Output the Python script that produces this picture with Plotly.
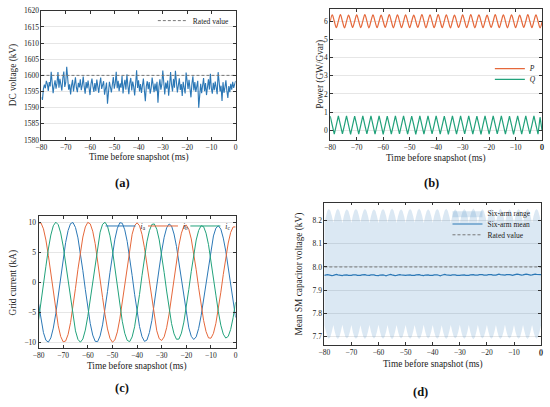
import numpy as np
import plotly.graph_objects as go

# ---- (a) DC voltage, sampled every 0.4 ms ----
dc_voltage = [
    1593.2, 1592.4, 1595.8, 1597.1, 1596.0, 1598.3, 1597.4, 1595.2, 1597.9, 1596.6,
    1601.1, 1597.3, 1594.5, 1596.8, 1598.5, 1595.9, 1597.6, 1601.0, 1596.2, 1598.9,
    1597.0, 1595.3, 1599.1, 1601.2, 1596.4, 1597.8, 1602.7, 1598.1, 1595.6, 1597.2,
    1594.1, 1596.9, 1598.6, 1595.0, 1597.5, 1599.4, 1596.1, 1594.8, 1597.7, 1596.3,
    1598.8, 1595.4, 1597.0, 1599.6, 1596.5, 1594.3, 1597.9, 1596.0, 1598.4, 1595.7,
    1593.9, 1597.3, 1599.0, 1596.6, 1594.9, 1597.6, 1595.2, 1598.7, 1596.9, 1594.6,
    1597.4, 1599.3, 1595.8, 1596.7, 1598.2, 1594.0, 1596.3, 1597.8, 1591.2, 1595.5,
    1598.0, 1596.4, 1594.7, 1597.1, 1599.5, 1595.9, 1597.6, 1601.1, 1596.0, 1598.3,
    1595.1, 1597.5, 1596.2, 1599.8, 1594.4, 1597.0, 1598.6, 1595.6, 1600.3, 1596.8,
    1594.2, 1597.7, 1599.2, 1595.3, 1598.1, 1596.5, 1593.8, 1597.4, 1601.6, 1596.1,
    1598.5, 1595.0, 1597.3, 1594.6, 1596.9, 1599.0, 1595.4, 1592.0, 1596.6, 1598.2,
    1595.7, 1597.9, 1594.3, 1596.0, 1599.3, 1596.7, 1594.8, 1597.5, 1595.2, 1598.0,
    1591.5, 1596.4, 1598.8, 1595.6, 1597.2, 1601.5, 1596.3, 1594.1, 1597.8, 1595.9,
    1598.4, 1593.7, 1596.8, 1601.0, 1597.1, 1595.0, 1598.9, 1596.2, 1601.4, 1597.6,
    1594.7, 1596.9, 1599.1, 1595.5, 1597.3, 1593.6, 1598.0, 1596.1, 1594.4, 1600.9,
    1597.0, 1595.8, 1598.6, 1596.4, 1593.2, 1597.5, 1599.7, 1595.3, 1597.9, 1594.9,
    1596.6, 1598.3, 1590.0, 1595.7, 1597.4, 1594.5, 1596.9, 1599.2, 1595.1, 1597.6,
    1593.9, 1596.2, 1598.8, 1595.6, 1600.5, 1596.0, 1594.3, 1597.7, 1595.4, 1598.1,
    1596.5, 1594.2, 1601.0, 1597.3, 1595.0, 1596.8, 1592.1, 1597.9, 1594.6, 1596.3,
    1598.5, 1595.2, 1593.0, 1596.7, 1594.8, 1597.4, 1595.6, 1598.0, 1596.1, 1597.2,
    1598.3,
]
dc_rated = [1600, 1600]

# ---- (b) active / reactive power, quarter-period samples ----
power_p = [
    6.00, 6.35, 6.00, 5.65, 6.01, 6.36, 6.00, 5.64, 5.99, 6.34, 6.01, 5.66,
    6.00, 6.35, 6.00, 5.65, 6.01, 6.37, 6.01, 5.64, 6.00, 6.35, 5.99, 5.65,
    6.00, 6.34, 6.00, 5.66, 6.01, 6.36, 6.00, 5.64, 6.00, 6.35, 6.01, 5.65,
    5.99, 6.35, 6.00, 5.65, 6.00, 6.34, 6.00, 5.66, 6.01, 6.36, 6.01, 5.64,
    6.00, 6.35, 5.99, 5.65, 6.00, 6.37, 6.00, 5.65, 6.01, 6.35, 6.00, 5.64,
    6.00, 6.34, 6.01, 5.66, 5.99, 6.35, 6.00, 5.65, 6.00, 6.36, 6.00, 5.64,
    6.01, 6.35, 6.01, 5.65, 6.00, 6.34, 5.99, 5.66, 6.00, 6.36, 6.00, 5.65,
    6.01, 6.35, 6.00, 5.64, 6.00, 6.35, 6.01, 5.65, 5.99, 6.34, 6.00, 5.66,
    6.00, 6.36, 6.00, 5.65, 6.01, 6.35, 6.00, 5.64, 5.98,
]
power_q = [
    0.78, 0.29, -0.21, 0.29, 0.79, 0.30, -0.20, 0.28, 0.80, 0.29, -0.22, 0.29,
    0.78, 0.30, -0.21, 0.29, 0.79, 0.28, -0.20, 0.30, 0.80, 0.29, -0.21, 0.29,
    0.79, 0.30, -0.22, 0.28, 0.78, 0.29, -0.21, 0.29, 0.80, 0.29, -0.20, 0.30,
    0.79, 0.28, -0.21, 0.29, 0.78, 0.30, -0.22, 0.29, 0.79, 0.29, -0.21, 0.28,
    0.80, 0.29, -0.20, 0.29, 0.79, 0.30, -0.21, 0.29, 0.78, 0.28, -0.22, 0.30,
    0.79, 0.29, -0.21, 0.29, 0.80, 0.30, -0.20, 0.28, 0.79, 0.29, -0.21, 0.29,
    0.78, 0.29, -0.22, 0.30, 0.79, 0.28, -0.21, 0.29, 0.80, 0.30, -0.20, 0.29,
    0.79, 0.29, -0.21, 0.28, 0.78, 0.29, -0.22, 0.29, 0.79, 0.30, -0.21, 0.30,
    0.80, 0.29, -0.20, 0.29, 0.79, 0.28, -0.21, 0.72, -0.03,
]

# ---- (c) grid currents, 1 ms samples ----
current_a = [
    -3.54, -6.28, -8.40, -9.68, -9.98, -9.28, -7.65, -5.25, -2.33, 0.83,
    3.91, 6.59, 8.61, 9.77, 9.95, 9.12, 7.39, 4.91, 1.93, -1.23,
    -4.28, -6.89, -8.81, -9.85, -9.90, -8.95, -7.11, -4.55, -1.54, 1.63,
    4.63, 7.17, 8.99, 9.91, 9.83, 8.73, 6.79, 4.17, 1.13, -2.01,
    -4.94, -7.38, -9.07, -9.86, -9.65, -8.40, -6.39, -3.74, -0.73, 2.37,
    5.18, 7.49, 9.06, 9.71, 9.38, 8.03, 5.97, 3.32, 0.33, -2.69,
    -5.41, -7.60, -9.02, -9.55, -9.11, -7.69, -5.58, -2.91, 0.06, 3.02,
    5.63, 7.71, 9.01, 9.40, 8.85, 7.35, 5.19, 2.51, -0.43, -3.32,
    -5.89,
]
current_b = [
    9.87, 9.88, 8.90, 7.02, 4.44, 1.42, -1.75, -4.74, -7.26, -9.05,
    -9.93, -9.81, -8.71, -6.73, -4.08, -1.02, 2.15, 5.09, 7.53, 9.21,
    9.97, 9.72, 8.50, 6.43, 3.71, 0.62, -2.54, -5.43, -7.79, -9.36,
    -9.99, -9.62, -8.28, -6.12, -3.33, -0.22, 2.91, 5.74, 7.99, 9.44,
    9.90, 9.41, 7.97, 5.74, 2.92, -0.18, -3.23, -5.97, -8.10, -9.42,
    -9.71, -9.11, -7.59, -5.31, -2.50, 0.57, 3.54, 6.16, 8.17, 9.34,
    9.52, 8.81, 7.21, 4.89, 2.08, -0.94, -3.84, -6.35, -8.23, -9.28,
    -9.33, -8.52, -6.84, -4.48, -1.67, 1.29, 4.11, 6.53, 8.29, 9.21,
    9.21,
]
current_c = [
    -6.33, -3.59, -0.49, 2.66, 5.54, 7.86, 9.40, 10.0, 9.59, 8.21,
    6.02, 3.22, 0.09, -3.04, -5.87, -8.11, -9.53, -10.0, -9.46, -7.98,
    -5.69, -2.83, 0.31, 3.42, 6.19, 8.33, 9.65, 9.99, 9.33, 7.73,
    5.36, 2.45, -0.71, -3.79, -6.50, -8.51, -9.69, -9.91, -9.12, -7.43,
    -4.96, -2.04, 1.10, 4.12, 6.73, 8.58, 9.63, 9.71, 8.83, 7.05,
    4.53, 1.61, -1.47, -4.39, -6.89, -8.60, -9.51, -9.48, -8.49, -6.65,
    -4.11, -1.20, 1.81, 4.66, 7.03, 8.63, 9.41, 9.26, 8.17, 6.26,
    3.70, 0.81, -2.16, -4.92, -7.17, -8.65, -9.31, -9.03, -7.86, -5.89,
    -3.33,
]

# ---- (d) SM capacitor voltage, six samples per ripple cycle ----
sm_upper = [
    8.190, 8.220, 8.242, 8.250, 8.242, 8.220, 8.191, 8.221, 8.243, 8.251, 8.242, 8.219,
    8.189, 8.220, 8.241, 8.249, 8.241, 8.220, 8.190, 8.222, 8.243, 8.250, 8.243, 8.221,
    8.192, 8.221, 8.242, 8.251, 8.242, 8.220, 8.190, 8.219, 8.241, 8.249, 8.241, 8.219,
    8.189, 8.220, 8.242, 8.250, 8.242, 8.221, 8.191, 8.221, 8.243, 8.252, 8.243, 8.220,
    8.190, 8.220, 8.241, 8.249, 8.241, 8.219, 8.190, 8.221, 8.242, 8.250, 8.242, 8.220,
    8.191, 8.220, 8.243, 8.251, 8.242, 8.221, 8.189, 8.219, 8.241, 8.249, 8.241, 8.220,
    8.190, 8.221, 8.242, 8.250, 8.243, 8.220, 8.192, 8.222, 8.243, 8.251, 8.242, 8.219,
    8.190, 8.220, 8.241, 8.249, 8.241, 8.220, 8.189, 8.220, 8.242, 8.250, 8.242, 8.221,
    8.191, 8.221, 8.243, 8.252, 8.243, 8.220, 8.190, 8.219, 8.241, 8.249, 8.241, 8.219,
    8.190, 8.220, 8.242, 8.250, 8.242, 8.220, 8.191, 8.221, 8.243, 8.251, 8.242, 8.221,
    8.189, 8.220, 8.241, 8.249, 8.241, 8.220, 8.190, 8.221, 8.242, 8.250, 8.243, 8.220,
    8.191, 8.220, 8.243, 8.251, 8.242, 8.219, 8.190, 8.220, 8.242, 8.250, 8.242, 8.220,
    8.190,
]
sm_lower = [
    7.750, 7.720, 7.698, 7.690, 7.698, 7.720, 7.749, 7.719, 7.697, 7.689, 7.698, 7.721,
    7.751, 7.720, 7.699, 7.691, 7.699, 7.720, 7.750, 7.718, 7.697, 7.690, 7.697, 7.719,
    7.748, 7.719, 7.698, 7.689, 7.698, 7.720, 7.750, 7.721, 7.699, 7.691, 7.699, 7.721,
    7.751, 7.720, 7.698, 7.690, 7.698, 7.719, 7.749, 7.719, 7.697, 7.688, 7.697, 7.720,
    7.750, 7.720, 7.699, 7.691, 7.699, 7.721, 7.750, 7.719, 7.698, 7.690, 7.698, 7.720,
    7.749, 7.720, 7.697, 7.689, 7.698, 7.719, 7.751, 7.721, 7.699, 7.691, 7.699, 7.720,
    7.750, 7.719, 7.698, 7.690, 7.697, 7.720, 7.748, 7.718, 7.697, 7.689, 7.698, 7.721,
    7.750, 7.720, 7.699, 7.691, 7.699, 7.720, 7.751, 7.720, 7.698, 7.690, 7.698, 7.719,
    7.749, 7.719, 7.697, 7.688, 7.697, 7.720, 7.750, 7.721, 7.699, 7.691, 7.699, 7.721,
    7.750, 7.720, 7.698, 7.690, 7.698, 7.720, 7.749, 7.719, 7.697, 7.689, 7.698, 7.719,
    7.751, 7.720, 7.699, 7.691, 7.699, 7.720, 7.750, 7.719, 7.698, 7.690, 7.697, 7.720,
    7.749, 7.720, 7.697, 7.689, 7.698, 7.721, 7.750, 7.720, 7.698, 7.690, 7.698, 7.720,
    7.750,
]
sm_mean = [
    7.964, 7.966, 7.967, 7.966, 7.964, 7.963, 7.964, 7.966, 7.968, 7.966, 7.964, 7.962,
    7.963, 7.965, 7.967, 7.966, 7.964, 7.963, 7.964, 7.966, 7.967, 7.966, 7.964, 7.963,
    7.964, 7.966, 7.968, 7.967, 7.965, 7.963, 7.964, 7.966, 7.967, 7.966, 7.964, 7.963,
    7.963, 7.965, 7.967, 7.966, 7.964, 7.962, 7.964, 7.966, 7.968, 7.966, 7.964, 7.963,
    7.964, 7.966, 7.967, 7.966, 7.965, 7.963, 7.964, 7.965, 7.967, 7.966, 7.964, 7.963,
    7.964, 7.966, 7.968, 7.967, 7.965, 7.963, 7.963, 7.965, 7.967, 7.966, 7.964, 7.963,
    7.964, 7.966, 7.967, 7.966, 7.964, 7.962, 7.964, 7.966, 7.968, 7.966, 7.965, 7.963,
    7.964, 7.966, 7.967, 7.966, 7.964, 7.963, 7.964, 7.965, 7.967, 7.966, 7.964, 7.963,
    7.964, 7.966, 7.968, 7.967, 7.965, 7.964, 7.965, 7.967, 7.968, 7.967, 7.965, 7.964,
    7.965, 7.967, 7.968, 7.967, 7.965, 7.964, 7.965, 7.967, 7.969, 7.967, 7.966, 7.964,
    7.965, 7.967, 7.968, 7.967, 7.966, 7.964, 7.966, 7.968, 7.969, 7.968, 7.966, 7.965,
    7.966, 7.968, 7.969, 7.968, 7.966, 7.965, 7.966, 7.968, 7.969, 7.968, 7.967, 7.966,
    7.967,
]
sm_rated = [8.0, 8.0]

x_ticks = [-80, -70, -60, -50, -40, -30, -20, -10, 0]
rated_t = [-80, 0]

t_dc = np.linspace(-80, 0, len(dc_voltage))
t_pq = np.linspace(-80, 0, len(power_p))
t_i = np.linspace(-80, 0, len(current_a))
t_sm = np.linspace(-80, 0, len(sm_mean))

SERIF = 'Liberation Serif'
BLUE = '#2c78b6'
ORANGE = '#e5683b'
GREEN = '#22a27b'
GREY = '#777777'
W, H = 550, 407


def px_x(x):
    return x / W


def px_y(y):
    return 1 - y / H


def legend_at(text_x, text_y):
    # text of a single-entry legend starts about 40 px right of the box edge
    return dict(x=px_x(text_x - 41), y=px_y(text_y), xanchor='left', yanchor='middle',
                bgcolor='rgba(0,0,0,0)', borderwidth=0, itemwidth=30,
                font=dict(family=SERIF, size=7.5, color='#222'))


fig = go.Figure()

# (a)
fig.add_trace(go.Scatter(x=t_dc, y=dc_voltage, mode='lines', line=dict(color=BLUE, width=1.1),
                         showlegend=False, xaxis='x', yaxis='y'))
fig.add_trace(go.Scatter(x=rated_t, y=dc_rated, mode='lines', name='Rated value',
                         line=dict(color=GREY, width=1, dash='3px,2px'), legend='legend',
                         xaxis='x', yaxis='y'))

# (b)
fig.add_trace(go.Scatter(x=t_pq, y=power_p, mode='lines', name='<i>P</i>',
                         line=dict(color=ORANGE, width=1.2, shape='spline'), legend='legend2',
                         xaxis='x2', yaxis='y2'))
fig.add_trace(go.Scatter(x=t_pq, y=power_q, mode='lines', name='<i>Q</i>',
                         line=dict(color=GREEN, width=1.2), legend='legend3',
                         xaxis='x2', yaxis='y2'))

# (c)
for vals, col, name, leg in [(current_a, BLUE, '<i>i</i><sub>a</sub>', 'legend4'),
                             (current_b, ORANGE, '<i>i</i><sub>b</sub>', 'legend5'),
                             (current_c, GREEN, '<i>i</i><sub>c</sub>', 'legend6')]:
    fig.add_trace(go.Scatter(x=t_i, y=vals, mode='lines', name=name,
                             line=dict(color=col, width=1), legend=leg,
                             xaxis='x3', yaxis='y3'))

# (d)
fig.add_trace(go.Scatter(x=t_sm, y=sm_lower, mode='lines', line=dict(width=0),
                         showlegend=False, hoverinfo='skip', xaxis='x4', yaxis='y4'))
fig.add_trace(go.Scatter(x=t_sm, y=sm_upper, mode='lines', name='Six-arm range',
                         line=dict(width=0), fill='tonexty',
                         fillcolor='rgba(44,120,182,0.17)', legend='legend7',
                         xaxis='x4', yaxis='y4'))
fig.add_trace(go.Scatter(x=t_sm, y=sm_mean, mode='lines', name='Six-arm mean',
                         line=dict(color=BLUE, width=1.2), legend='legend8',
                         xaxis='x4', yaxis='y4'))
fig.add_trace(go.Scatter(x=rated_t, y=sm_rated, mode='lines', name='Rated value',
                         line=dict(color=GREY, width=1, dash='3px,2px'), legend='legend9',
                         xaxis='x4', yaxis='y4'))

tick_font = dict(family=SERIF, size=7.5, color='#222')
frame = dict(showline=True, linecolor='#333', linewidth=0.8, mirror='ticks',
             ticks='inside', ticklen=3, tickwidth=0.8, tickcolor='#333',
             tickfont=tick_font, zeroline=False, ticklabeloverflow='allow')


def x_axis(left, right, anchor):
    return dict(frame, domain=[px_x(left), px_x(right)], anchor=anchor, range=[-80, 0],
                tickvals=x_ticks, showgrid=False)


def y_axis(top, bottom, anchor, rng, dtick, fmt=None):
    ax = dict(frame, domain=[px_y(bottom), px_y(top)], anchor=anchor, range=rng,
              dtick=dtick, showgrid=True, gridcolor='#e6e6e6', gridwidth=0.8)
    if fmt:
        ax['tickformat'] = fmt
    return ax


fig.update_layout(
    width=W, height=H,
    margin=dict(l=0, r=0, t=0, b=0),
    paper_bgcolor='white', plot_bgcolor='white',
    hovermode=False,
    font=dict(family=SERIF, color='#222'),
    xaxis=x_axis(36, 233, 'y'),
    yaxis=y_axis(7, 139, 'x', [1580, 1620], 5),
    xaxis2=x_axis(329, 544, 'y2'),
    yaxis2=y_axis(5, 139, 'x2', [-0.53, 6.68], 1),
    xaxis3=x_axis(33, 233, 'y3'),
    yaxis3=y_axis(217, 352, 'x3', [-11, 11], 5),
    xaxis4=x_axis(323, 543, 'y4'),
    yaxis4=y_axis(203, 349, 'x4', [7.662, 8.278], 0.1, '.1f'),
    legend=legend_at(190, 17),
    legend2=legend_at(532, 66),
    legend3=legend_at(532, 77),
    legend4=legend_at(137, 227),
    legend5=legend_at(180, 227),
    legend6=legend_at(223, 227),
    legend7=legend_at(489, 214),
    legend8=legend_at(489, 225),
    legend9=legend_at(489, 236),
)

# plotly drops the last tick label of the two right-hand panels (too close to the
# page edge), so put that "0" back as text on the same axis position
for xref, axis_bottom in [('x2', 139), ('x4', 349)]:
    fig.add_annotation(x=x_ticks[-1], y=px_y(axis_bottom + 8), xref=xref, yref='paper',
                       text=str(x_ticks[-1]), showarrow=False, font=tick_font,
                       xanchor='center', yanchor='middle')

# axis titles and panel labels
title_font = dict(family=SERIF, size=9.3, color='#222')
texts = [
    (134.5, 157, 'Time before snapshot (ms)', 0),
    (8, 73, 'DC voltage (kV)', -90),
    (436.5, 158, 'Time before snapshot (ms)', 0),
    (319, 72, 'Power (GW/Gvar)', -90),
    (133, 371, 'Time before snapshot (ms)', 0),
    (8, 285, 'Grid current (kA)', -90),
    (433, 369, 'Time before snapshot (ms)', 0),
    (298, 276, 'Mean SM capacitor voltage (kV)', -90),
]
for x, y, text, angle in texts:
    fig.add_annotation(x=px_x(x), y=px_y(y), xref='paper', yref='paper', text=text,
                       showarrow=False, textangle=angle, font=title_font,
                       xanchor='center', yanchor='middle')

for x, y, text in [(118, 183, '(a)'), (432, 183, '(b)'), (118, 393, '(c)'), (421, 397, '(d)')]:
    fig.add_annotation(x=px_x(x), y=px_y(y), xref='paper', yref='paper',
                       text='<b>' + text + '</b>', showarrow=False,
                       font=dict(family=SERIF, size=12.5, color='#111'),
                       xanchor='center', yanchor='middle')

# the page body has a default 8 px margin: drop it, then draw the figure again so
# that everything is laid out against the final position of the plot
redraw = ("document.body.style.margin='0';"
          "var gd=document.getElementById('{plot_id}');"
          "Plotly.newPlot(gd, gd.data, gd.layout, {displayModeBar: false});")
fig.write_html('out.html', config={'displayModeBar': False}, post_script=redraw)
